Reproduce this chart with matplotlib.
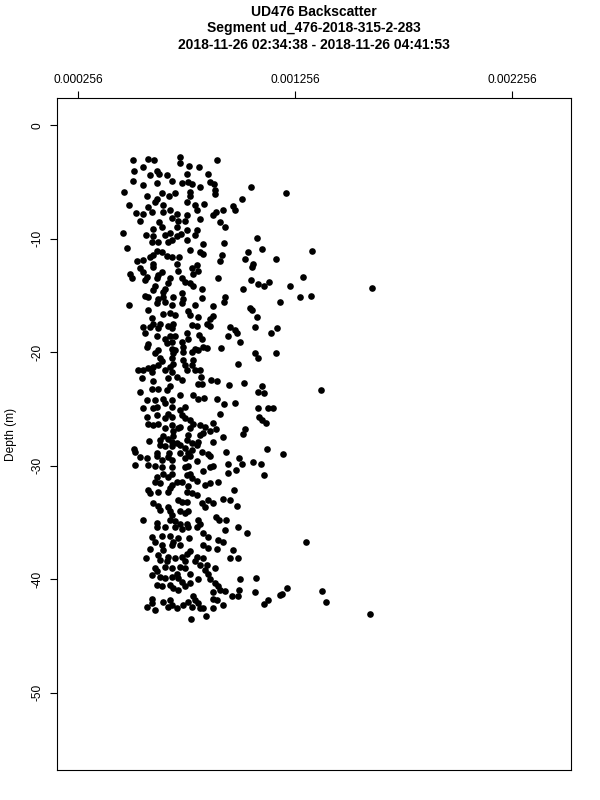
import numpy as np
import matplotlib
matplotlib.use("Agg")
import matplotlib.pyplot as plt

plt.rcParams['font.family'] = ['Liberation Sans', 'DejaVu Sans']
plt.rcParams['axes.unicode_minus'] = False

title_lines = ["UD476 Backscatter",
               "Segment ud_476-2018-315-2-283",
               "2018-11-26 02:34:38 - 2018-11-26 04:41:53"]
y_label = "Depth (m)"
x_ticks = [0.000256, 0.001256, 0.002256]
x_tick_labels = ["0.000256", "0.001256", "0.002256"]
y_ticks = [0, -10, -20, -30, -40, -50]
y_tick_labels = ["0", "-10", "-20", "-30", "-40", "-50"]
x_limits = (0.000159, 0.002528)
y_limits = (-56.8, 2.4)

# backscatter (units of 1e-6) and depth (m), grouped by depth band
bs_band1 = [511, 577, 608, 726, 726, 898, 514, 557, 619, 767,
            813, 588, 631, 665, 760, 856, 508, 557, 619, 688,
            734, 764, 780, 818, 864, 882, 1054, 1213, 469, 573,
            619, 642, 677, 703, 772, 772, 887, 887, 1011, 491,
            580, 611, 649, 760, 795, 836, 803, 971, 979, 524,
            557, 596, 649, 680, 711, 757, 892, 925, 542, 631,
            688, 718, 749, 818, 879, 910]
depth_band1 = [-3.1, -3.0, -3.1, -2.8, -3.3, -3.1, -4.0, -3.7, -4.0, -3.6,
               -3.7, -4.4, -4.3, -4.4, -4.3, -4.3, -4.9, -5.3, -5.1, -4.9,
               -5.1, -5.0, -5.2, -5.4, -5.0, -5.2, -5.4, -6.0, -5.9, -6.2,
               -6.5, -6.0, -6.2, -6.0, -5.9, -6.2, -5.7, -6.1, -6.5, -7.0,
               -7.2, -6.8, -7.0, -6.8, -7.0, -6.9, -7.5, -7.1, -7.5, -7.7,
               -7.8, -7.6, -7.6, -7.5, -7.8, -7.9, -7.6, -7.5, -8.4, -8.5,
               -8.2, -8.4, -8.4, -8.3, -7.9, -8.5]

bs_band2 = [465, 603, 642, 711, 757, 933, 570, 603, 596, 626,
            657, 680, 711, 688, 672, 729, 760, 795, 806, 830,
            928, 1080, 483, 619, 603, 588, 642, 665, 688, 723,
            772, 818, 918, 1038, 1103, 1336, 527, 557, 542, 557,
            603, 603, 711, 718, 780, 803, 810, 787, 830, 910,
            1026, 1064, 1057, 1169, 496, 504, 573, 565, 642, 626,
            619, 680, 672, 734, 749, 772, 787, 826, 902, 1052,
            1087, 1115, 1138, 1018, 1233, 1291, 1610, 611, 603, 657,
            649, 565, 580, 626, 649, 695, 734, 741, 826, 933,
            1279, 1328]
depth_band2 = [-9.5, -9.1, -9.0, -9.0, -9.2, -9.0, -9.7, -9.8, -10.3, -10.3,
               -9.7, -9.5, -9.8, -10.1, -10.3, -9.6, -10.1, -9.7, -9.2, -10.5,
               -10.4, -9.9, -10.8, -11.1, -11.4, -11.6, -11.2, -11.5, -11.6, -11.6,
               -11.0, -11.2, -11.4, -11.2, -10.9, -11.1, -12.0, -11.9, -12.6, -12.9,
               -12.2, -12.5, -12.2, -12.8, -12.6, -12.3, -12.8, -13.1, -11.3, -12.0,
               -11.8, -12.2, -12.5, -11.8, -13.1, -13.5, -13.4, -13.6, -12.9, -13.2,
               -13.5, -13.5, -13.9, -13.5, -13.8, -13.9, -14.2, -14.4, -13.5, -13.6,
               -14.0, -14.2, -13.8, -14.4, -14.2, -13.4, -14.3, -14.2, -14.5, -14.4,
               -14.7, -15.0, -15.1, -15.3, -15.1, -15.1, -14.8, -15.3, -15.2, -15.1,
               -15.1, -15.0]

bs_band3 = [493, 619, 657, 688, 734, 795, 876, 928, 1187, 580,
            649, 680, 703, 764, 772, 810, 879, 864, 1049, 1057,
            1080, 596, 603, 557, 588, 634, 626, 672, 695, 688,
            780, 803, 849, 864, 956, 979, 987, 1072, 1172, 1146,
            565, 619, 657, 665, 680, 688, 703, 734, 741, 757,
            764, 815, 826, 948, 1003, 580, 573, 611, 626, 688,
            695, 703, 741, 780, 795, 810, 833, 849, 913, 1072,
            1087, 1167, 634, 642, 626, 603, 688, 695, 680, 741,
            749, 757, 787, 780, 795, 818, 992, 534, 557, 580,
            596, 657, 688]
depth_band3 = [-15.8, -15.7, -15.6, -15.8, -15.7, -15.8, -15.9, -15.6, -15.6, -16.3,
               -16.6, -16.5, -16.7, -16.4, -16.7, -16.9, -16.8, -17.1, -16.1, -16.3,
               -16.9, -17.0, -17.5, -17.8, -17.8, -17.5, -17.9, -17.7, -17.5, -17.9,
               -17.6, -17.7, -17.5, -17.7, -17.8, -18.0, -18.3, -17.8, -17.9, -18.3,
               -18.3, -18.6, -18.8, -19.2, -18.6, -19.1, -18.6, -19.1, -19.5, -18.3,
               -18.8, -18.5, -18.8, -18.6, -19.1, -19.3, -19.5, -20.1, -19.8, -19.7,
               -20.1, -19.8, -20.0, -20.0, -19.7, -19.8, -19.5, -19.6, -19.6, -20.1,
               -20.5, -20.1, -20.5, -20.8, -21.1, -21.3, -20.5, -21.0, -21.3, -20.7,
               -21.1, -21.6, -20.7, -21.1, -21.6, -21.6, -21.0, -21.6, -21.6, -21.4,
               -21.7, -21.6, -21.7]

bs_band4 = [550, 603, 672, 711, 734, 810, 826, 821, 867, 895,
            953, 1023, 1103, 1084, 1113, 1374, 542, 596, 626, 665,
            680, 726, 573, 611, 619, 649, 657, 688, 688, 787,
            810, 838, 895, 930, 979, 1087, 1133, 1153, 557, 603,
            726, 749, 910, 573, 619, 657, 672, 688, 734, 749,
            772, 787, 818, 841, 876, 1092, 1103, 1123, 580, 603,
            626, 657, 688, 695, 718, 726, 772, 864, 892, 1026,
            1015, 584, 634, 649, 672, 695, 688, 711, 764, 757,
            780, 818, 833, 810, 803, 922, 879, 514, 634, 657,
            688, 726, 749, 1126]
depth_band4 = [-22.3, -22.5, -22.3, -22.2, -22.4, -22.8, -22.8, -22.2, -22.4, -22.5,
               -22.9, -22.7, -23.0, -23.5, -23.6, -23.3, -23.5, -23.2, -23.2, -23.3,
               -23.0, -23.8, -24.2, -24.2, -24.8, -24.1, -24.5, -24.2, -24.8, -23.8,
               -24.1, -24.0, -24.1, -24.6, -24.5, -24.9, -24.9, -24.9, -24.9, -24.9,
               -25.1, -24.8, -25.4, -25.7, -25.5, -25.8, -25.4, -25.7, -25.5, -25.8,
               -26.0, -26.3, -26.4, -26.6, -26.2, -25.7, -26.0, -26.2, -26.3, -26.4,
               -26.3, -26.7, -26.4, -26.9, -26.7, -26.6, -26.7, -26.9, -26.8, -26.8,
               -27.2, -27.8, -27.7, -27.4, -27.6, -27.4, -27.9, -28.0, -27.3, -27.7,
               -28.0, -27.3, -27.1, -27.9, -28.2, -27.5, -27.9, -28.5, -28.2, -28.3,
               -28.3, -28.2, -28.4, -28.5]

bs_band5 = [519, 619, 677, 726, 764, 780, 826, 856, 937,
            542, 573, 619, 642, 672, 688, 749, 772, 806, 864,
            999, 1011, 1199, 519, 580, 611, 642, 688, 749, 764,
            833, 864, 879, 948, 948, 984, 1064, 1100, 1113, 619,
            649, 672, 688, 634, 611, 757, 772, 780, 803, 711,
            734, 688, 680, 672, 841, 864, 899, 764, 757, 780,
            803, 580, 588, 626, 976, 718, 734, 757, 603, 626,
            634, 672, 680, 688, 826, 841, 856, 879, 925, 956,
            987, 726, 749, 764, 557, 619, 680, 703, 726, 757,
            810, 818, 892, 907, 937]
depth_band5 = [-28.8, -28.9, -28.9, -28.9, -28.9, -28.6, -28.8, -29.0, -28.8,
               -29.2, -29.3, -29.1, -29.5, -29.2, -29.5, -29.3, -29.1, -29.6, -29.1,
               -29.3, -29.8, -29.0, -29.9, -29.9, -30.0, -30.1, -30.1, -30.1, -30.0,
               -30.5, -30.1, -30.0, -29.8, -30.6, -30.4, -29.7, -29.8, -30.8, -31.0,
               -30.7, -31.0, -30.7, -31.5, -31.4, -30.8, -30.7, -31.1, -31.3, -31.4,
               -31.4, -31.7, -32.0, -32.3, -31.7, -31.5, -31.4, -31.8, -32.3, -32.4,
               -32.6, -32.1, -32.4, -32.3, -32.1, -33.0, -33.2, -33.2, -33.3, -33.5,
               -33.9, -33.6, -34.0, -34.3, -33.3, -33.6, -33.0, -33.3, -32.9, -33.0,
               -33.5, -34.0, -34.2, -34.0, -34.8, -35.0, -34.8, -34.9, -35.1, -35.1,
               -34.8, -35.1, -34.5, -34.8, -34.8]

bs_band6 = [619, 657, 703, 734, 764, 803, 933, 992, 1035, 833,
            856, 596, 611, 642, 680, 695, 718, 767, 902, 925,
            1307, 588, 642, 649, 688, 726, 833, 856, 895, 772,
            757, 968, 570, 626, 634, 672, 665, 703, 734, 749,
            803, 833, 956, 994, 611, 619, 657, 688, 726, 749,
            711, 795, 818, 849, 841, 856, 887,
            596, 634, 657, 619, 642, 688, 718, 734, 772, 680,
            695, 718, 749, 772, 810, 864, 887, 902, 910, 879,
            933, 1003, 999, 1075, 1072, 1218, 1195, 1379]
depth_band6 = [-35.4, -35.4, -35.4, -35.6, -35.4, -35.4, -35.7, -35.4, -35.9, -35.9,
               -36.3, -36.3, -36.7, -36.2, -36.2, -36.7, -36.4, -36.4, -36.5, -36.7,
               -36.7, -37.3, -37.0, -37.4, -37.0, -37.0, -37.0, -37.2, -37.3, -37.5,
               -37.8, -37.4, -38.1, -37.9, -38.3, -38.0, -38.4, -38.1, -38.0, -38.4,
               -38.0, -38.1, -38.1, -38.1, -39.0, -39.3, -38.9, -39.0, -38.9, -39.0,
               -39.5, -38.4, -38.7, -38.7, -39.2, -39.5, -39.0,
               -39.6, -39.8, -39.9, -40.5, -40.6, -39.8, -39.9, -40.2, -39.5, -40.5,
               -40.8, -40.9, -40.6, -40.3, -40.0, -40.0, -40.3, -40.6, -40.9, -41.1,
               -41.0, -40.0, -40.9, -39.9, -41.1, -40.8, -41.3, -41.0]

bs_band7 = [596, 573, 611, 596, 649, 680, 688, 711, 672, 741,
            764, 780, 795, 810, 818, 833, 787, 879, 895, 879,
            922, 964, 994, 775, 845, 1115, 1133, 1187, 1397, 1602]
depth_band7 = [-41.7, -42.4, -42.7, -42.1, -42.0, -41.8, -42.3, -42.5, -42.4, -42.3,
               -42.0, -42.4, -41.8, -42.1, -42.5, -42.5, -41.5, -41.7, -41.8, -42.5,
               -42.3, -41.5, -41.5, -43.5, -43.2, -42.2, -41.8, -41.4, -42.0, -43.1]

bs_micro = np.concatenate([bs_band1, bs_band2, bs_band3, bs_band4,
                           bs_band5, bs_band6, bs_band7])
depth = np.concatenate([depth_band1, depth_band2, depth_band3, depth_band4,
                        depth_band5, depth_band6, depth_band7])
backscatter = bs_micro * 1e-6

fig = plt.figure(figsize=(6, 8), dpi=100)
ax = fig.add_axes([57 / 600, 30 / 800, 514 / 600, 672 / 800])

ax.scatter(backscatter, depth, s=23, c='black', linewidths=0, zorder=3)

ax.set_xlim(*x_limits)
ax.set_ylim(*y_limits)

ax.xaxis.tick_top()
ax.set_xticks(x_ticks)
ax.set_xticklabels(x_tick_labels, fontsize=8.6)
ax.set_yticks(y_ticks)
ax.set_yticklabels(y_tick_labels, fontsize=8.6, rotation=90, va='center')
ax.tick_params(axis='x', length=5, width=0.8, pad=3.5, top=True, bottom=False)
ax.tick_params(axis='y', length=5, width=0.8, pad=5)
for sp in ax.spines.values():
    sp.set_linewidth(0.8)

ax.set_ylabel(y_label, fontsize=8.6, labelpad=10)

ys = [12, 28, 45]
for line, y in zip(title_lines, ys):
    fig.text(314 / 600, 1 - y / 800, line, ha='center', va='center',
             fontsize=10.0, fontweight='bold')

fig.savefig("out.png", dpi=100)
